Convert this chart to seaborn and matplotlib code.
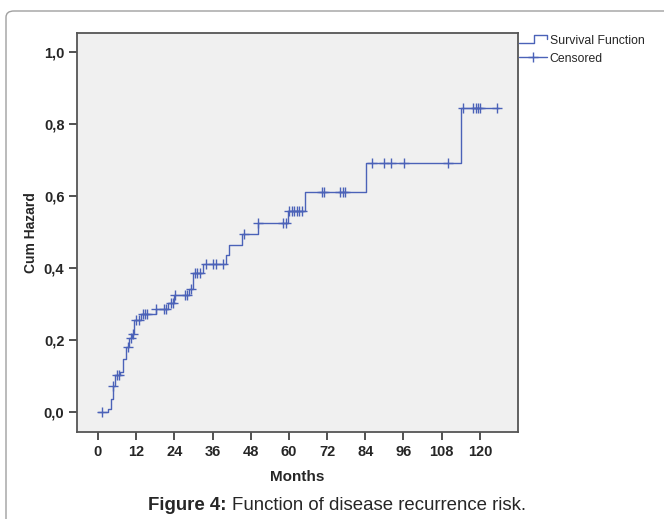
import numpy as np
import pandas as pd
import matplotlib
matplotlib.use("Agg")
import matplotlib.pyplot as plt
import seaborn as sns
from matplotlib.lines import Line2D
from matplotlib.patches import FancyBboxPatch
from matplotlib.legend_handler import HandlerBase
from matplotlib.ticker import FuncFormatter

# Cumulative hazard step function (time in months, value after the step)
step_months = [0, 3.2, 4.1, 4.8, 5.3, 6.9, 8.0, 8.7, 9.8, 10.8, 11.4, 13.4, 18.2,
               21.9, 23.9, 28.6, 30.0, 33.1, 40.1, 41.2, 45.1, 50.2, 59.8, 65.1,
               84.1, 114.0]
step_hazard = [0.0, 0.008, 0.035, 0.072, 0.103, 0.112, 0.146, 0.181, 0.205, 0.217,
               0.256, 0.271, 0.285, 0.302, 0.325, 0.341, 0.385, 0.41, 0.436, 0.464,
               0.494, 0.524, 0.557, 0.61, 0.691, 0.844]
last_followup = 126.0

# Censored observations (months)
censored_months = [1.2, 4.8, 5.9, 6.7, 9.3, 10.3, 11.1, 11.8, 12.9, 14.0, 14.8, 15.3,
                   18.2, 20.7, 21.3, 22.8, 23.6, 24.2, 27.3, 28.0, 29.1, 30.6, 31.2,
                   31.9, 33.9, 36.0, 37.1, 39.2, 46.0, 50.2, 58.2, 59.1, 60.1, 60.9,
                   61.7, 62.4, 63.2, 64.0, 70.3, 71.0, 76.0, 76.9, 77.6, 86.0, 90.0,
                   92.0, 96.1, 110.0, 114.8, 117.9, 118.8, 119.5, 120.0, 125.3]

x_ticks = [0, 12, 24, 36, 48, 60, 72, 84, 96, 108, 120]
y_ticks = [0.0, 0.2, 0.4, 0.6, 0.8, 1.0]

blue = "#4b62b8"

steps = pd.DataFrame({"Months": step_months + [last_followup],
                      "Cum Hazard": step_hazard + [step_hazard[-1]]})
idx = np.searchsorted(step_months, censored_months, side="right") - 1
cens = pd.DataFrame({"Months": censored_months,
                     "Cum Hazard": np.array(step_hazard)[idx]})

sns.set_style("white")
plt.rcParams["font.family"] = ["Liberation Sans", "DejaVu Sans"]

fig = plt.figure(figsize=(6.64, 5.19), dpi=100)
ax = fig.add_axes([77 / 664, 1 - 432 / 519, (518 - 77) / 664, (432 - 33) / 519])
ax.set_facecolor("#f0f0f0")

# outer rounded frame
frame = FancyBboxPatch((6 / 664, -0.2), 1.2, 1.2 - 11 / 519,
                       boxstyle="round,pad=0,rounding_size=0.012",
                       transform=fig.transFigure, fill=False,
                       edgecolor="#a0a0a0", linewidth=1.0, zorder=-5)
fig.patches.append(frame)

sns.lineplot(data=steps, x="Months", y="Cum Hazard", drawstyle="steps-post",
             color=blue, linewidth=1.0, ax=ax, estimator=None)
sns.scatterplot(data=cens, x="Months", y="Cum Hazard", marker="+", s=45,
                color=blue, linewidth=1.0, ax=ax, zorder=3)

ax.set_xlim(-6.6, 132)
ax.set_ylim(-0.056, 1.053)
ax.set_xticks(x_ticks)
ax.set_yticks(y_ticks)
ax.yaxis.set_major_formatter(FuncFormatter(lambda v, p: f"{v:.1f}".replace(".", ",")))
ax.tick_params(bottom=True, left=True, direction="out", length=6, width=1.2,
               color="#333333", labelsize=10.5, pad=3)
for lab in ax.get_xticklabels() + ax.get_yticklabels():
    lab.set_fontweight("bold")
for sp in ax.spines.values():
    sp.set_color("#555555")
    sp.set_linewidth(1.3)
ax.set_xlabel("Months", fontsize=11, fontweight="bold", labelpad=8)
ax.set_ylabel("Cum Hazard", fontsize=10, fontweight="bold", labelpad=4)


class StepHandler(HandlerBase):
    def create_artists(self, legend, orig_handle, xdescent, ydescent, width,
                       height, fontsize, trans):
        xs = np.array([0, 0.55, 0.55, 1.0, 1.0]) * width - xdescent
        ys = np.array([0.15, 0.15, 1.0, 1.0, 0.55]) * height - ydescent
        ln = Line2D(xs, ys, color=blue, linewidth=1.0, transform=trans)
        return [ln]


surv_handle = Line2D([], [], color=blue, linewidth=1.0)
cens_handle = Line2D([], [], color=blue, linewidth=1.0, marker="+", markersize=7)
fig.legend([surv_handle, cens_handle], ["Survival Function", "Censored"],
           loc="upper left", bbox_to_anchor=(519 / 664, 1 - 35 / 519),
           frameon=False, fontsize=8.8, handlelength=2.3, handletextpad=0.2,
           labelspacing=0.45, borderpad=0, borderaxespad=0,
           handler_map={surv_handle: StepHandler()})

# caption: bold label followed by plain text
cap_y = 1 - 505 / 519
t1 = fig.text(148 / 664, cap_y, "Figure 4:", fontsize=13.4, fontweight="bold",
              ha="left", va="center")
fig.canvas.draw()
bb = t1.get_window_extent(fig.canvas.get_renderer())
fig.text((bb.x1 + 5) / 664, cap_y, "Function of disease recurrence risk.",
         fontsize=13.4, ha="left", va="center")

fig.savefig("out.png", dpi=100)
